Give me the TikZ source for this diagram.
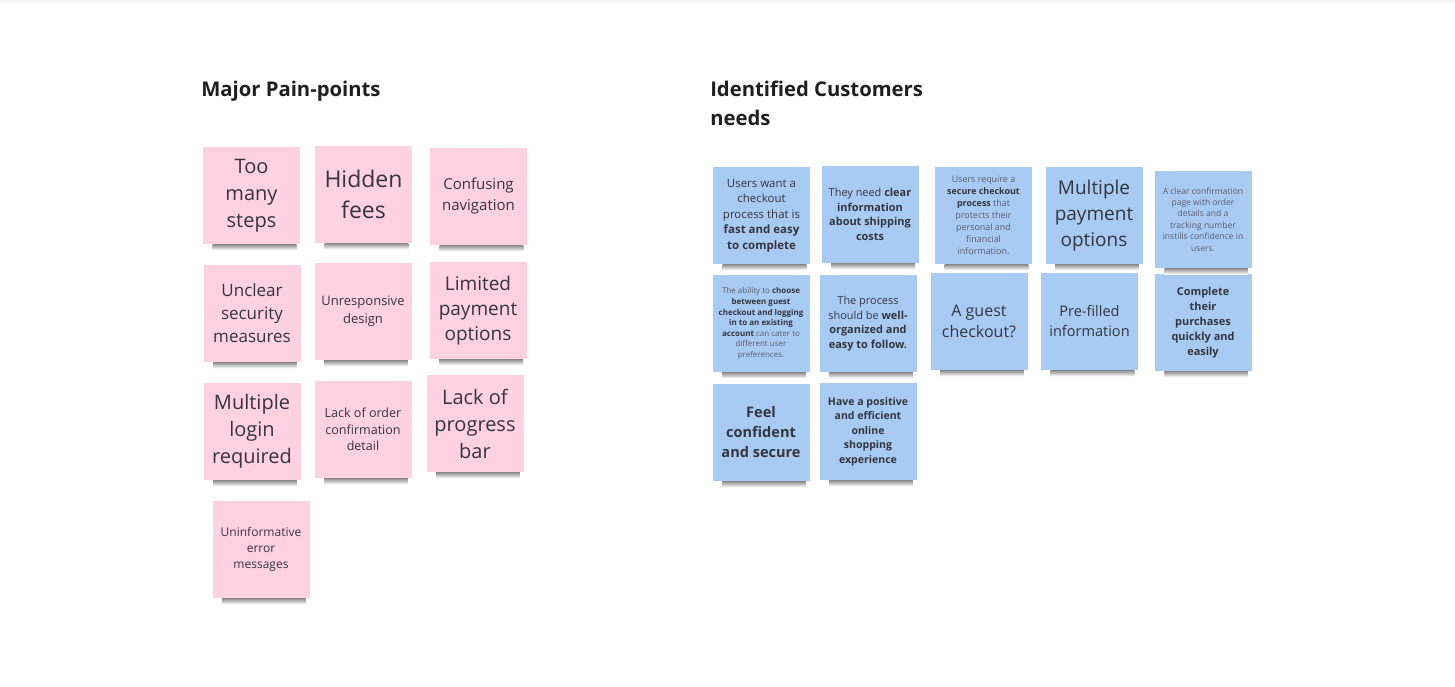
\documentclass[tikz,border=0pt]{standalone}
\usepackage{fontspec}
\setmainfont{Open Sans}
\definecolor{pinknote}{HTML}{FFD1E1}
\definecolor{bluenote}{HTML}{A8CBF3}
\definecolor{inkdark}{HTML}{34353F}
\definecolor{inkgray}{HTML}{5A5E6E}
\newcommand{\fsz}[2]{\fontsize{#1pt}{#2pt}\selectfont}
\tikzset{
  note/.style={minimum width=72.75pt, minimum height=72.75pt, inner sep=0pt, align=center, text=inkdark},
  pain/.style={note, fill=pinknote},
  need/.style={note, fill=bluenote},
  heading/.style={anchor=base west, inner sep=0pt, align=left, text=black!88, font={\bfseries\fsz{15.2}{21.75}}},
}
\begin{document}
\begin{tikzpicture}[x=0.75pt, y=-0.75pt]
  \useasboundingbox (0,0) rectangle (1455,686);
  \fill[white] (0,0) rectangle (1455,686);
  \fill[black!5] (0,0) rectangle (1455,1.5);

  % headings
  \node[heading] (head1) at (201,96.5) {Major Pain-points};
  \node[heading] (head2) at (710,125.5) {Identified Customers\\needs};

  % pain points
  \node[pain, font={\fsz{15}{20.25}}] (p1) at (251.5,195.5) {Too\\many\\steps};
  \node[pain, font={\fsz{17.25}{23.25}}] (p2) at (363.5,194.5) {Hidden\\fees};
  \node[pain, font={\fsz{11.25}{15.75}}] (p3) at (478.5,196.5) {Confusing\\navigation};
  \node[pain, font={\fsz{12.75}{17.25}}] (p4) at (252,313.5) {Unclear\\security\\measures};
  \node[pain, font={\fsz{9.75}{13.5}}] (p5) at (363,311.5) {Unresponsive\\design};
  \node[pain, font={\fsz{14.25}{18.75}}] (p6) at (478,310.5) {Limited\\payment\\options};
  \node[pain, font={\fsz{15}{20.25}}] (p7) at (252,431.5) {Multiple\\login\\required};
  \node[pain, font={\fsz{9.4}{12.4}}] (p8) at (363,429.5) {Lack of order\\confirmation\\detail};
  \node[pain, font={\fsz{15}{20.25}}] (p9) at (475,423.5) {Lack of\\progress\\bar};
  \node[pain, font={\fsz{9}{12}}] (p10) at (261,549.5) {Uninformative\\error\\messages};

  % customer needs
  \node[need, font={\fsz{8.6}{11.6}}] (b1) at (761.5,215.5) {Users want a\\checkout\\process that is\\\textbf{fast and easy}\\\textbf{to complete}};
  \node[need, font={\fsz{8.2}{10.9}}] (b2) at (870,214.5) {They need \textbf{clear}\\\textbf{information}\\\textbf{about shipping}\\\textbf{costs}};
  \node[need, text=inkgray, font={\fsz{6.7}{9}}] (b3) at (983.5,215.5) {Users require a\\\textcolor{inkdark}{\textbf{secure checkout}}\\\textcolor{inkdark}{\textbf{process}} that\\protects their\\personal and\\financial\\information.};
  \node[need, font={\fsz{14.25}{19.5}}] (b4) at (1094,215.5) {Multiple\\payment\\options};
  \node[need, text=inkgray, font={\fsz{6.4}{8.6}}] (b5) at (1203,219.5) {A clear confirmation\\page with order\\details and a\\tracking number\\instills confidence in\\users.};
  \node[need, text=inkgray, font={\fsz{6}{7.9}}] (b6) at (761,323.5) {The ability to \textcolor{inkdark}{\textbf{choose}}\\\textcolor{inkdark}{\textbf{between guest}}\\\textcolor{inkdark}{\textbf{checkout and logging}}\\\textcolor{inkdark}{\textbf{in to an existing}}\\\textcolor{inkdark}{\textbf{account}} can cater to\\different user\\preferences.};
  \node[need, font={\fsz{8.2}{10.9}}] (b7) at (868,323.5) {The process\\should be \textbf{well-}\\\textbf{organized and}\\\textbf{easy to follow.}};
  \node[need, font={\fsz{12}{15.75}}] (b8) at (979,321.5) {A guest\\checkout?};
  \node[need, font={\fsz{10.9}{15}}] (b9) at (1089.5,321.5) {Pre-filled\\information};
  \node[need, font={\bfseries\fsz{8.2}{11.2}}] (b10) at (1203,322.5) {Complete\\their\\purchases\\quickly and\\easily};
  \node[need, font={\bfseries\fsz{10.9}{15}}] (b11) at (761,432.5) {Feel\\confident\\and secure};
  \node[need, font={\bfseries\fsz{7.9}{10.9}}] (b12) at (868,431.5) {Have a positive\\and efficient\\online\\shopping\\experience};

  % soft shadows under the notes
  \foreach \n in {p1,p2,p3,p4,p5,p6,p7,p8,p9,p10,b1,b2,b3,b4,b5,b6,b7,b8,b9,b10,b11,b12}
    \shade[top color=black!45, bottom color=white]
      ([shift={(10,0)}]\n.south west) rectangle ([shift={(-4,6)}]\n.south east);
\end{tikzpicture}
\end{document}
